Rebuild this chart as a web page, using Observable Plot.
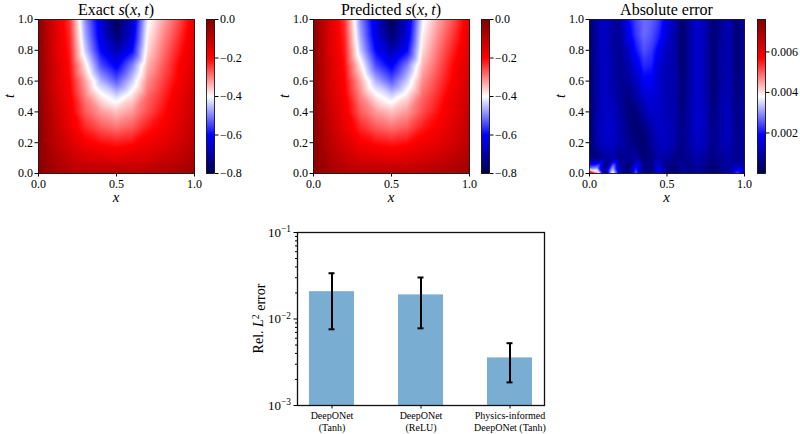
<!DOCTYPE html>
<html><head><meta charset="utf-8">
<script src="https://cdn.jsdelivr.net/npm/d3@7"></script>
<script src="https://cdn.jsdelivr.net/npm/@observablehq/plot@0.6"></script>
<style>
body{margin:0;background:#fff;}
#root{position:relative;width:800px;height:434px;overflow:hidden;font-family:"Liberation Serif",serif;}
</style></head><body><div id="root"></div>
<script>
// ---------- data ----------
const fieldX = [0,0.1,0.2,0.3,0.4,0.5,0.6,0.7,0.8,0.9,1.0];
const fieldT = [1.0,0.9,0.8,0.7,0.6,0.5,0.4,0.3,0.2,0.1,0.0];
const exactRows = [
  [-0.02,-0.14,-0.24,-0.49,-0.64,-0.79,-0.66,-0.41,-0.33,-0.26,-0.17],
  [-0.02,-0.14,-0.23,-0.47,-0.63,-0.76,-0.64,-0.39,-0.31,-0.24,-0.16],
  [-0.02,-0.14,-0.22,-0.44,-0.60,-0.69,-0.60,-0.37,-0.29,-0.22,-0.15],
  [-0.02,-0.13,-0.21,-0.38,-0.54,-0.61,-0.50,-0.34,-0.27,-0.20,-0.14],
  [-0.02,-0.13,-0.20,-0.33,-0.46,-0.53,-0.44,-0.31,-0.25,-0.19,-0.13],
  [-0.02,-0.12,-0.19,-0.30,-0.385,-0.43,-0.375,-0.28,-0.23,-0.17,-0.12],
  [-0.02,-0.11,-0.18,-0.27,-0.32,-0.35,-0.32,-0.26,-0.21,-0.16,-0.11],
  [-0.02,-0.10,-0.17,-0.23,-0.27,-0.29,-0.27,-0.22,-0.19,-0.15,-0.10],
  [-0.02,-0.09,-0.14,-0.19,-0.21,-0.22,-0.21,-0.18,-0.16,-0.13,-0.09],
  [-0.02,-0.07,-0.11,-0.14,-0.15,-0.16,-0.15,-0.14,-0.12,-0.10,-0.07],
  [-0.02,-0.05,-0.07,-0.08,-0.08,-0.08,-0.08,-0.08,-0.07,-0.06,-0.04]
];
// the predicted panel is visually identical to the exact one
const predictedRows = exactRows;

const errX = [0,0.05,0.1,0.15,0.2,0.25,0.3,0.35,0.4,0.45,0.5,0.55,0.6,0.65,0.7,0.75,0.8,0.85,0.9,0.95,1.0];
const errT = [1.0,0.9,0.8,0.7,0.6,0.5,0.4,0.3,0.2,0.1,0.04,0.0];
const errRows = [
  [0.0003,0.0010,0.0013,0.0009,0.0008,0.0019,0.0024,0.0027,0.0026,0.0023,0.0016,0.0011,0.0003,0.0010,0.0014,0.0010,0.0004,0.0008,0.0011,0.0004,0.0010],
  [0.0003,0.0010,0.0013,0.0009,0.0008,0.0017,0.0023,0.0027,0.0025,0.0021,0.0014,0.0010,0.0003,0.0010,0.0014,0.0010,0.0004,0.0008,0.0011,0.0004,0.0009],
  [0.0003,0.0010,0.0013,0.0009,0.0007,0.0013,0.0020,0.0025,0.0023,0.0017,0.0012,0.0010,0.0003,0.0010,0.0014,0.0010,0.0004,0.0009,0.0011,0.0004,0.0009],
  [0.0003,0.0010,0.0013,0.0010,0.0007,0.0010,0.0016,0.0022,0.0021,0.0014,0.0011,0.0010,0.0003,0.0010,0.0014,0.0010,0.0004,0.0009,0.0011,0.0004,0.0009],
  [0.0003,0.0010,0.0013,0.0010,0.0007,0.0008,0.0012,0.0018,0.0018,0.0013,0.0011,0.0010,0.0004,0.0010,0.0014,0.0010,0.0004,0.0009,0.0011,0.0005,0.0009],
  [0.0003,0.0010,0.0013,0.0011,0.0008,0.0006,0.0009,0.0014,0.0015,0.0013,0.0011,0.0010,0.0004,0.0010,0.0014,0.0010,0.0004,0.0010,0.0011,0.0005,0.0009],
  [0.0003,0.0010,0.0013,0.0012,0.0009,0.0005,0.0005,0.0010,0.0013,0.0013,0.0011,0.0010,0.0005,0.0010,0.0014,0.0011,0.0005,0.0010,0.0012,0.0006,0.0009],
  [0.0003,0.0011,0.0013,0.0013,0.0010,0.0006,0.0004,0.0005,0.0010,0.0013,0.0012,0.0010,0.0006,0.0010,0.0014,0.0011,0.0006,0.0010,0.0012,0.0006,0.0009],
  [0.0004,0.0010,0.0013,0.0013,0.0010,0.0007,0.0005,0.0004,0.0008,0.0012,0.0012,0.0010,0.0006,0.0010,0.0013,0.0011,0.0006,0.0010,0.0012,0.0007,0.0009],
  [0.0007,0.0005,0.0009,0.0010,0.0006,0.0008,0.0009,0.0004,0.0006,0.0010,0.0009,0.0006,0.0006,0.0008,0.0010,0.0008,0.0006,0.0008,0.0010,0.0007,0.0009],
  [0.0025,0.0028,0.0004,0.0030,0.0008,0.0003,0.0020,0.0006,0.0005,0.0016,0.0006,0.0004,0.0009,0.0006,0.0009,0.0006,0.0004,0.0007,0.0009,0.0013,0.0011],
  [0.0068,0.0048,0.0006,0.0040,0.0012,0.0003,0.0026,0.0006,0.0005,0.0020,0.0006,0.0004,0.0009,0.0006,0.0009,0.0006,0.0004,0.0007,0.0010,0.0025,0.0011]
];

const fieldTicksX = [0,0.5,1];
const fieldTicksT = [0,0.2,0.4,0.6,0.8,1.0];
const sDomain = [-0.8, 0];
const sTicks = [-0.8,-0.6,-0.4,-0.2,0];
const errDomain = [0, 0.0076];
const errTicks = [0.002,0.004,0.006];

const models = ["DeepONet\n(Tanh)", "DeepONet\n(ReLU)", "Physics-informed\nDeepONet (Tanh)"];
const meanErr = [0.0207, 0.0190, 0.00355];
const stdErr  = [0.0131, 0.0112, 0.0017];
const barDomain = [1e-3, 1e-1];
const barTicks = [1e-3, 1e-2, 1e-1];
const barMinorTicks = [2e-3,3e-3,4e-3,5e-3,6e-3,7e-3,8e-3,9e-3,2e-2,3e-2,4e-2,5e-2,6e-2,7e-2,8e-2,9e-2];

// ---------- helpers ----------
const FONT = '"Liberation Serif", "DejaVu Serif", serif';
const seismic = d3.piecewise(d3.interpolateRgb, ["#00004d","#0000ff","#ffffff","#ff0000","#800000"]);
const f1 = d3.format(".1f"), f3 = d3.format(".3f");
const toCells = (rows, xs, ts) => rows.flatMap((r, i) => r.map((v, j) => ({x: xs[j], t: ts[i], v})));
const root = document.getElementById("root");
function place(svg, left, top) {
  svg.style.position = "absolute"; svg.style.left = left + "px"; svg.style.top = top + "px";
  svg.querySelectorAll("text").forEach(t => { t.style.fontFamily = FONT; });
  root.appendChild(svg);
}
const baseStyle = {fontFamily: FONT, fontSize: "12px", color: "black", background: "transparent", overflow: "visible"};

function heatmap(cells, domain, frameW) {
  return Plot.plot({
    width: 38 + frameW + 6, height: 200, marginLeft: 38, marginRight: 6, marginTop: 19, marginBottom: 27,
    style: baseStyle,
    x: {domain: [0, 1]}, y: {domain: [0, 1]},
    color: {type: "linear", domain, interpolate: seismic, clamp: true},
    marks: [
      Plot.raster(cells, {x: "x", y: "t", fill: "v", interpolate: "barycentric", x1: 0, y1: 0, x2: 1, y2: 1}),
      Plot.frame({stroke: "black", strokeWidth: 0.8}),
      Plot.axisX({ticks: fieldTicksX, tickFormat: f1, tickSize: 3.5, tickPadding: 2, label: null, fontSize: 12}),
      Plot.axisY({ticks: fieldTicksT, tickFormat: f1, tickSize: 3.5, tickPadding: 2, label: null, fontSize: 12})
    ]
  });
}
function colorbar(domain, ticks, fmt) {
  return Plot.plot({
    width: 8 + 50, height: 200, marginLeft: 0, marginRight: 50, marginTop: 19, marginBottom: 27,
    style: baseStyle,
    x: {domain: [0, 1], axis: null}, y: {domain},
    color: {type: "linear", domain, interpolate: seismic, clamp: true},
    marks: [
      Plot.raster({fill: (x, y) => y, x1: 0, x2: 1, y1: domain[0], y2: domain[1]}),
      Plot.frame({stroke: "black", strokeWidth: 0.8}),
      Plot.axisY({anchor: "right", ticks, tickFormat: fmt, tickSize: 3.5, tickPadding: 2, label: null, fontSize: 12})
    ]
  });
}

place(heatmap(toCells(exactRows, fieldX, fieldT), sDomain, 156), 0, 0);
place(colorbar(sDomain, sTicks, f1), 206, 0);
place(heatmap(toCells(predictedRows, fieldX, fieldT), sDomain, 156), 275, 0);
place(colorbar(sDomain, sTicks, f1), 481, 0);
place(heatmap(toCells(errRows, errX, errT), errDomain, 155), 551, 0);
place(colorbar(errDomain, errTicks, f3), 757, 0);

// ---------- bar chart ----------
const barData = models.map((m, i) => ({model: m, mean: meanErr[i], std: stdErr[i]}));
const bar = Plot.plot({
  width: 320, height: 214, marginLeft: 57, marginRight: 16, marginTop: 12, marginBottom: 29,
  style: baseStyle,
  x: {type: "band", domain: models, paddingInner: 0.5, paddingOuter: 0.125},
  y: {type: "log", domain: barDomain},
  marks: [
    Plot.barY(barData, {x: "model", y1: () => barDomain[0], y2: "mean", fill: "#1f77b4", fillOpacity: 0.6}),
    Plot.ruleX(barData, {x: "model", y1: d => d.mean - d.std, y2: d => d.mean + d.std, stroke: "black", strokeWidth: 2}),
    Plot.tickY(barData, {x: "model", y: d => d.mean + d.std, insetLeft: 19.5, insetRight: 19.5, stroke: "black", strokeWidth: 2}),
    Plot.tickY(barData, {x: "model", y: d => d.mean - d.std, insetLeft: 19.5, insetRight: 19.5, stroke: "black", strokeWidth: 2}),
    Plot.frame({stroke: "#111", strokeWidth: 1.3}),
    Plot.axisY({ticks: barMinorTicks, tickSize: 2, tickFormat: () => "", label: null}),
    Plot.axisY({ticks: barTicks, tickSize: 3.5, tickPadding: 3, tickFormat: d => "10^" + Math.round(Math.log10(d)), label: null, fontSize: 13}),
    Plot.axisX({tickSize: 3.5, tickPadding: 2, label: null, fontSize: 10, lineHeight: 1.15})
  ]
});
bar.querySelectorAll('[aria-label="y-axis tick label"] text').forEach(t => {
  const s = t.textContent;
  if (!s.includes("^")) return;
  const [base, exp] = s.split("^");
  t.textContent = "";
  const NS = "http://www.w3.org/2000/svg";
  const a = document.createElementNS(NS, "tspan"); a.textContent = base; t.appendChild(a);
  const b = document.createElementNS(NS, "tspan"); b.textContent = exp.replace("-", "\u2212");
  b.setAttribute("dy", "-0.45em"); b.setAttribute("font-size", "0.72em"); t.appendChild(b);
});
place(bar, 240, 220);

// ---------- titles and axis labels ----------
const ov = d3.create("svg").attr("width", 800).attr("height", 434)
  .style("position", "absolute").style("left", "0px").style("top", "0px")
  .style("font-family", FONT).style("overflow", "visible");
function rich(x, y, size, parts, rotate) {
  const t = ov.append("text").attr("text-anchor", "middle").attr("font-size", size).attr("fill", "black")
    .style("font-family", FONT)
    .attr("transform", `translate(${x},${y})` + (rotate ? " rotate(-90)" : ""));
  parts.forEach(([s, it, sup]) => {
    const sp = t.append("tspan").attr("font-style", it ? "italic" : "normal").text(s);
    if (sup === 1) sp.attr("dy", "-0.45em").attr("font-size", "0.7em");
    if (sup === -1) sp.attr("dy", "0.45em");
  });
}
const sxt = [["s", true], ["(", false], ["x", true], [",\u2009", false], ["t", true], [")", false]];
rich(116, 15, 16, [["Exact ", false], ...sxt]);
rich(391, 15, 16, [["Predicted ", false], ...sxt]);
rich(666.5, 15, 16, [["Absolute error", false]]);
[[116, 38], [391, 313], [666.5, 589]].forEach(([cx, left]) => {
  rich(cx, 202, 15, [["x", true]]);
  rich(left - 24, 96, 14, [["t", true]], true);
});
rich(263, 318.5, 14, [["Rel. ", false], ["L", true], ["2", false, 1], [" error", false, -1]], true);
root.appendChild(ov.node());
</script>
</body></html>
